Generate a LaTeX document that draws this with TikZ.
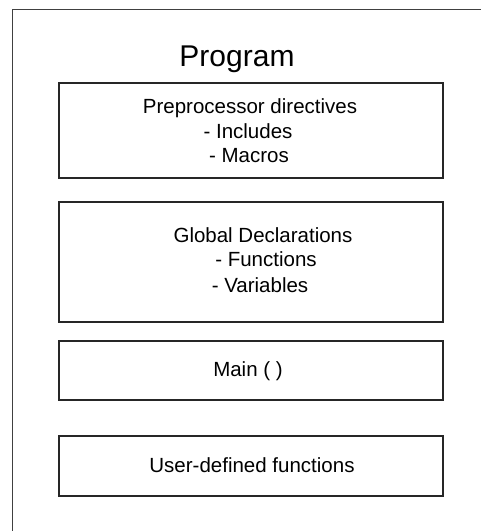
\documentclass[tikz,border=0pt]{standalone}
\usepackage{fontspec}
\setmainfont{Liberation Sans}
\begin{document}
\begin{tikzpicture}[x=1pt,y=1pt,
  box/.style={draw=black!85, line width=1.1pt, rectangle, minimum width=384pt, inner sep=0pt},
  txt/.style={font=\fontsize{20.5}{25}\selectfont, inner sep=0pt, align=center},
  title/.style={font=\fontsize{30}{34}\selectfont, inner sep=0pt}]
\useasboundingbox (0,0) rectangle (481,531);
% outer frame (clipped at right and bottom)
\coordinate (fbl) at (12,-5);
\coordinate (ftl) at (12,521);
\coordinate (ftr) at (486,521);
\draw[black!75, line width=1pt] (fbl) -- (ftl) -- (ftr);
\node[title, anchor=base] (prog) at (237,464) {Program};
\node[box, minimum height=95pt] (pre) at (251,400.5) {};
\node[box, minimum height=120pt] (glob) at (251,269) {};
\node[box, minimum height=59pt] (main) at (251,160.5) {};
\node[box, minimum height=60pt] (user) at (251,65) {};
\node[txt, anchor=base] (pretxt1) at (250,417) {Preprocessor directives};
\node[txt, anchor=base] (pretxt2) at (248,392.5) {- Includes};
\node[txt, anchor=base] (pretxt3) at (249,368) {- Macros};
\node[txt, anchor=base] (gtxt1) at (263,288) {Global Declarations};
\node[txt, anchor=base] (gtxt2) at (266,264) {- Functions};
\node[txt, anchor=base] (gtxt3) at (260,238) {- Variables};
\node[txt, anchor=base] (mtxt) at (248,154) {Main ( )};
\node[txt, anchor=base] (utxt) at (252,58) {User-defined functions};
\end{tikzpicture}
\end{document}
